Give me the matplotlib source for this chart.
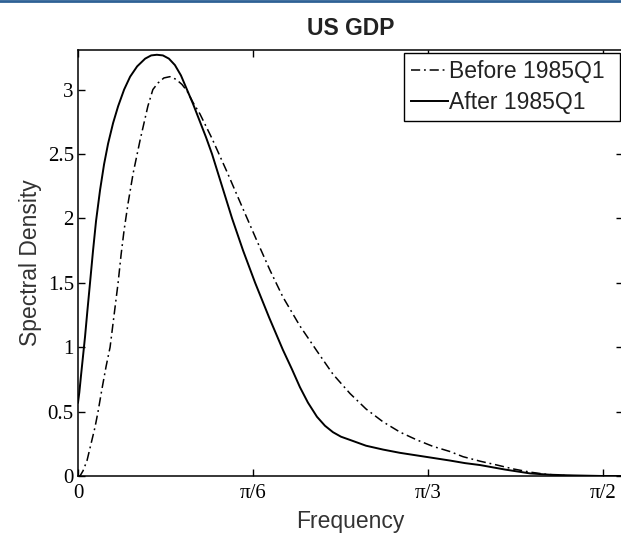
import numpy as np
import matplotlib
matplotlib.use("Agg")
import matplotlib.pyplot as plt
from matplotlib.lines import Line2D

# ---- data (frequency in radians, spectral density) ----
after_x = [0.000, 0.004, 0.009, 0.015, 0.021, 0.028, 0.036, 0.045, 0.054, 0.066,
           0.078, 0.090, 0.105, 0.120, 0.138, 0.156, 0.177, 0.201, 0.219, 0.236,
           0.254, 0.272, 0.290, 0.308, 0.326, 0.344, 0.365, 0.383, 0.401, 0.431,
           0.461, 0.494, 0.530, 0.572, 0.613, 0.640, 0.664, 0.688, 0.715, 0.739,
           0.763, 0.787, 0.814, 0.862, 0.913, 0.963, 1.038, 1.113, 1.158, 1.203,
           1.278, 1.353, 1.412, 1.472, 1.571, 1.631]
after_y = [0.57, 0.65, 0.78, 0.93, 1.08, 1.28, 1.50, 1.75, 1.98, 2.22,
           2.42, 2.58, 2.74, 2.87, 3.00, 3.10, 3.18, 3.24, 3.265, 3.27,
           3.265, 3.24, 3.19, 3.11, 3.00, 2.89, 2.75, 2.63, 2.50, 2.25,
           2.00, 1.75, 1.50, 1.23, 0.98, 0.83, 0.69, 0.57, 0.46, 0.39,
           0.34, 0.305, 0.28, 0.235, 0.205, 0.18, 0.15, 0.12, 0.10, 0.085,
           0.05, 0.02, 0.01, 0.005, 0.0, 0.0]

before_x = [0.000, 0.006, 0.015, 0.027, 0.039, 0.051, 0.060, 0.072, 0.084, 0.096,
            0.108, 0.120, 0.129, 0.138, 0.150, 0.165, 0.186, 0.209, 0.224, 0.239,
            0.257, 0.275, 0.293, 0.311, 0.326, 0.344, 0.365, 0.401, 0.446, 0.491,
            0.538, 0.574, 0.613, 0.664, 0.715, 0.763, 0.814, 0.862, 0.913, 0.964,
            1.014, 1.062, 1.113, 1.152, 1.203, 1.254, 1.302, 1.353, 1.401, 1.451,
            1.502, 1.631]
before_y = [0.0, 0.0, 0.04, 0.12, 0.25, 0.38, 0.50, 0.68, 0.85, 1.00,
            1.25, 1.50, 1.72, 1.91, 2.12, 2.35, 2.61, 2.87, 3.00, 3.05,
            3.09, 3.10, 3.08, 3.04, 2.99, 2.90, 2.81, 2.62, 2.36, 2.09,
            1.81, 1.60, 1.39, 1.165, 0.97, 0.79, 0.64, 0.52, 0.42, 0.34,
            0.28, 0.23, 0.19, 0.15, 0.115, 0.085, 0.055, 0.03, 0.013, 0.004,
            0.0, 0.0]

xtick_vals = [0, np.pi / 6, np.pi / 3, np.pi / 2]
xtick_labels = ["0", "π/6", "π/3", "π/2"]
ytick_vals = [0, 0.5, 1, 1.5, 2, 2.5, 3]
ytick_labels = ["0", "0.5", "1", "1.5", "2", "2.5", "3"]

title = "US GDP"
xlabel = "Frequency"
ylabel = "Spectral Density"
labels = ["Before 1985Q1", "After 1985Q1"]

W, H = 621, 536
fig = plt.figure(figsize=(W / 100, H / 100), dpi=100)
fig.patch.set_facecolor("white")

# axes: left 78px, right ~623px (just past image edge), top 50px, bottom 476px
L, R, T, B = 78, 623, 50, 476
ax = fig.add_axes([L / W, 1 - B / H, (R - L) / W, (B - T) / H])

sans = "Liberation Sans"
serif = "Liberation Serif"
fs = 16.5

ax.plot(before_x, before_y, color="black", lw=1.1, ls=(0, (6, 2.5, 1.2, 2.5)),
        label=labels[0])
ax.plot(after_x, after_y, color="black", lw=1.4, ls="-", label=labels[1])

ax.set_xlim(0, 1.6308)
ax.set_ylim(0, 3.307)

ax.set_xticks(xtick_vals)
ax.set_xticklabels(xtick_labels, fontfamily=serif, fontsize=15)
ax.set_yticks(ytick_vals)
ax.set_yticklabels(ytick_labels, fontfamily=serif, fontsize=15)
ax.tick_params(direction="in", length=5, width=1.0, top=True, right=True,
               colors="black")
ax.tick_params(axis="x", pad=6)
ax.tick_params(axis="y", pad=3)
for sp in ax.spines.values():
    sp.set_linewidth(1.1)
    sp.set_color("black")

ax.set_title(title, fontfamily=sans, fontsize=fs, fontweight="bold", pad=11,
             color="#222222")
ax.set_xlabel(xlabel, fontfamily=sans, fontsize=fs, labelpad=5, color="#333333")
ax.set_ylabel(ylabel, fontfamily=sans, fontsize=fs, labelpad=4, color="#333333")

leg = ax.legend(loc="upper left",
                bbox_to_anchor=(404 / W, 1 - 53 / H, (620 - 404) / W, 0.0),
                bbox_transform=fig.transFigure, mode="expand",
                prop={"family": sans, "size": fs}, frameon=True, fancybox=False,
                edgecolor="black", framealpha=1, borderpad=0.3,
                handlelength=1.6, handletextpad=0.05, labelspacing=0.35,
                borderaxespad=0)
leg.get_frame().set_linewidth(1.0)
for t in leg.get_texts():
    t.set_color("#222222")

# thin blue bar at the very top of the image
fig.add_artist(Line2D([0, 1], [1 - 1.2 / H, 1 - 1.2 / H], transform=fig.transFigure,
                      color="#2e6195", lw=2.0))

fig.savefig("out.png", dpi=100)
